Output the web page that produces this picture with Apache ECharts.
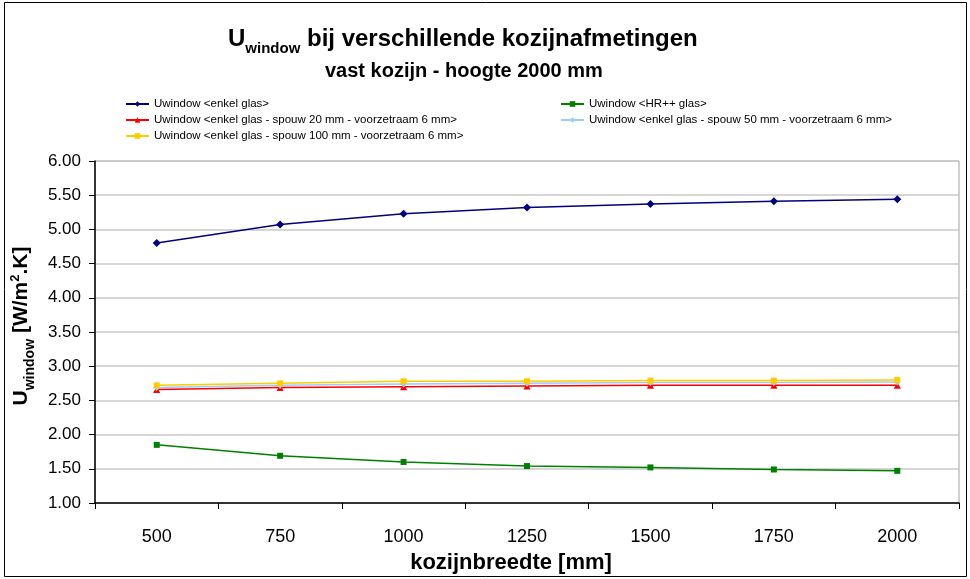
<!DOCTYPE html>
<html>
<head>
<meta charset="utf-8">
<script src="https://cdn.jsdelivr.net/npm/echarts@6/dist/echarts.min.js"></script>
<style>
  html, body { margin: 0; padding: 0; background: #fff; }
  #chart { width: 970px; height: 579px; }
</style>
</head>
<body>
<div id="chart"></div>
<script>
// Frame widths (mm)
const widths = ['500', '750', '1000', '1250', '1500', '1750', '2000'];

// U-values in W/m².K per glazing type
const enkelGlas      = [4.80, 5.07, 5.23, 5.32, 5.37, 5.41, 5.44];
const hrGlas         = [1.85, 1.69, 1.60, 1.54, 1.52, 1.49, 1.47];
const spouw20        = [2.66, 2.69, 2.70, 2.71, 2.72, 2.72, 2.72];
const spouw50        = [2.69, 2.72, 2.74, 2.75, 2.76, 2.76, 2.77];
const spouw100       = [2.72, 2.75, 2.78, 2.78, 2.79, 2.79, 2.80];

const seriesNames = [
  'Uwindow <enkel glas>',
  'Uwindow <HR++ glas>',
  'Uwindow <enkel glas - spouw 20 mm - voorzetraam 6 mm>',
  'Uwindow <enkel glas - spouw 50 mm - voorzetraam 6 mm>',
  'Uwindow <enkel glas - spouw 100 mm - voorzetraam 6 mm>'
];

const FONT = '"Liberation Sans", Arial, sans-serif';

const chart = echarts.init(document.getElementById('chart'), null, { renderer: 'canvas' });

function lineSeries(name, data, color, symbol, size) {
  return {
    name: name,
    type: 'line',
    data: data,
    symbol: symbol,
    symbolSize: size,
    lineStyle: { color: color, width: 1.5 },
    itemStyle: { color: color },
    emphasis: { disabled: true },
    animation: false
  };
}

const legendText = { fontFamily: FONT, fontSize: 11.5, color: '#000' };

chart.setOption({
  backgroundColor: '#fff',
  animation: false,
  title: [
    {
      left: 228,
      top: 27,
      padding: 0,
      text: '{u|U}{s|window}{m| bij verschillende kozijnafmetingen}',
      textStyle: {
        rich: {
          u: { fontFamily: FONT, fontSize: 24, fontWeight: 'bold', color: '#000', verticalAlign: 'bottom', padding: [0, 0, 5, 0] },
          s: { fontFamily: FONT, fontSize: 15, fontWeight: 'bold', color: '#000', verticalAlign: 'bottom' },
          m: { fontFamily: FONT, fontSize: 24, fontWeight: 'bold', color: '#000', verticalAlign: 'bottom', padding: [0, 0, 5, 0] }
        }
      }
    },
    {
      left: 325,
      top: 61,
      padding: 0,
      text: 'vast kozijn - hoogte 2000 mm',
      textStyle: { fontFamily: FONT, fontSize: 20, fontWeight: 'bold', color: '#000' }
    }
  ],
  legend: [
    {
      data: [seriesNames[0], seriesNames[2], seriesNames[4]],
      orient: 'vertical',
      left: 125,
      top: 98,
      padding: 0,
      itemWidth: 23,
      itemHeight: 7,
      itemGap: 4,
      textStyle: legendText,
      selectedMode: false
    },
    {
      data: [seriesNames[1], seriesNames[3]],
      orient: 'vertical',
      left: 560,
      top: 98,
      padding: 0,
      itemWidth: 23,
      itemHeight: 7,
      itemGap: 4,
      textStyle: legendText,
      selectedMode: false
    }
  ],
  grid: {
    left: 95,
    right: 11,
    top: 161,
    bottom: 74,
    show: true,
    borderColor: '#a0a0a0',
    borderWidth: 1,
    backgroundColor: '#fff'
  },
  xAxis: {
    type: 'category',
    data: widths,
    boundaryGap: true,
    axisLine: { lineStyle: { color: '#000', width: 1.5 } },
    axisTick: { show: true, inside: false, length: 6, lineStyle: { color: '#000' } },
    axisLabel: { fontFamily: FONT, fontSize: 18, color: '#000', margin: 25 },
    splitLine: { show: false },
    name: 'kozijnbreedte [mm]',
    nameLocation: 'middle',
    nameGap: 49,
    nameTextStyle: { fontFamily: FONT, fontSize: 22, fontWeight: 'bold', color: '#000', padding: [0, 32, 0, 0] }
  },
  yAxis: {
    type: 'value',
    min: 1,
    max: 6,
    interval: 0.5,
    axisLine: { show: true, lineStyle: { color: '#000', width: 1.5 } },
    axisTick: { show: true, inside: false, length: 6, lineStyle: { color: '#000' } },
    axisLabel: {
      fontFamily: FONT, fontSize: 17, color: '#000', margin: 14,
      formatter: v => v.toFixed(2)
    },
    splitLine: { show: true, lineStyle: { color: '#c8c8c8', width: 1.5 } },
    name: '{u|U}{s|window}{m| [W/m}{p|2}{m|.K]}',
    nameLocation: 'middle',
    nameGap: 46,
    nameRotate: 90,
    nameTextStyle: {
      padding: [0, 0, 0, 12],
      rich: {
        u: { fontFamily: FONT, fontSize: 21, fontWeight: 'bold', color: '#000', verticalAlign: 'bottom', padding: [0, 0, 5, 0] },
        s: { fontFamily: FONT, fontSize: 14, fontWeight: 'bold', color: '#000', verticalAlign: 'bottom' },
        m: { fontFamily: FONT, fontSize: 21, fontWeight: 'bold', color: '#000', verticalAlign: 'bottom', padding: [0, 0, 5, 0] },
        p: { fontFamily: FONT, fontSize: 13, fontWeight: 'bold', color: '#000', verticalAlign: 'bottom', padding: [0, 0, 15, 0] }
      }
    }
  },
  series: [
    lineSeries(seriesNames[0], enkelGlas, '#000080', 'diamond', 8),
    lineSeries(seriesNames[1], hrGlas, '#008000', 'rect', 6),
    lineSeries(seriesNames[2], spouw20, '#ff0000', 'triangle', 7),
    lineSeries(seriesNames[3], spouw50, '#99ccff', 'diamond', 7),
    lineSeries(seriesNames[4], spouw100, '#ffcc00', 'rect', 6)
  ],
  graphic: [
    {
      type: 'rect',
      shape: { x: 4.5, y: 2.5, width: 962, height: 574 },
      style: { fill: null, stroke: '#000', lineWidth: 1 },
      silent: true,
      z: 100
    }
  ]
});
</script>
</body>
</html>
